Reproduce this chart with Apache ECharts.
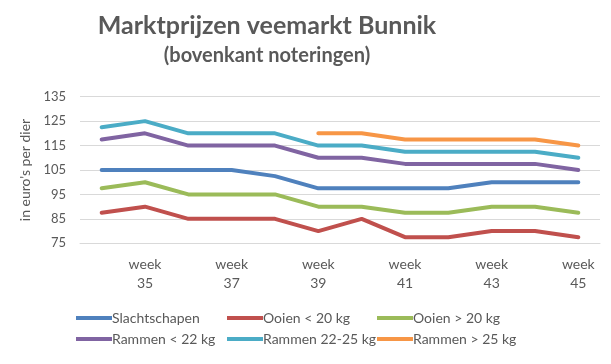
<!DOCTYPE html>
<html>
<head>
<meta charset="utf-8">
<script src="https://cdn.jsdelivr.net/npm/echarts@6/dist/echarts.min.js"></script>
<style>html,body{margin:0;padding:0;background:#fff}#c{width:611px;height:364px}</style>
</head>
<body>
<div id="c"></div>
<script>
var weeks = ['week 34','week 35','week 36','week 37','week 38','week 39','week 40','week 41','week 42','week 43','week 44','week 45'];
var slachtschapen = [105,105,105,105,102.5,97.5,97.5,97.5,97.5,100,100,100];
var ooienLt20 = [87.5,90,85,85,85,80,85,77.5,77.5,80,80,77.5];
var ooienGt20 = [97.5,100,95,95,95,90,90,87.5,87.5,90,90,87.5];
var rammenLt22 = [117.5,120,115,115,115,110,110,107.5,107.5,107.5,107.5,105];
var rammen2225 = [122.5,125,120,120,120,115,115,112.5,112.5,112.5,112.5,110];
var rammenGt25 = [null,null,null,null,null,120,120,117.5,117.5,117.5,117.5,115];
var yTicks = {min:75, max:135, interval:10};

var FONT = 'Lato';
var names = ['Slachtschapen','Ooien < 20 kg','Ooien > 20 kg','Rammen < 22 kg','Rammen 22-25 kg','Rammen > 25 kg'];
var colors = ['#4F81BD','#C0504D','#9BBB59','#8064A2','#4BACC6','#F79646'];
var datas = [slachtschapen, ooienLt20, ooienGt20, rammenLt22, rammen2225, rammenGt25];
var legendPos = [[76,311],[227,311],[377,311],[76,332],[227,332],[377,332]];

var chart = echarts.init(document.getElementById('c'));
chart.setOption({
  animation:false,
  textStyle:{fontFamily:FONT},
  title:[
    {text:'Marktprijzen veemarkt Bunnik', left:262, top:8, textAlign:'center',
     textStyle:{fontFamily:FONT, fontSize:25, fontWeight:'bold', color:'#595959'}},
    {text:'(bovenkant noteringen)', left:262, top:41, textAlign:'center',
     textStyle:{fontFamily:FONT, fontSize:20, fontWeight:'bold', color:'#595959'}}
  ],
  legend: names.map(function(n,i){
    return {data:[n], left:legendPos[i][0], top:legendPos[i][1], icon:'rect', itemWidth:36, itemHeight:4,
      padding:0, textStyle:{fontFamily:FONT, fontSize:14, color:'#595959', padding:[0,0,0,-5]}};
  }),
  grid:{left:80, right:11, top:96.7, bottom:120.7},
  xAxis:{type:'category', data:weeks, boundaryGap:true,
    axisLine:{lineStyle:{color:'#d9d9d9'}}, axisTick:{show:false},
    axisLabel:{interval:function(i){return i%2===1;}, formatter:function(v){return v.replace(' ','\n');},
      color:'#595959', fontSize:14, lineHeight:19, margin:12, fontFamily:FONT}},
  yAxis:{type:'value', min:yTicks.min, max:yTicks.max, interval:yTicks.interval,
    name:"in euro's per dier", nameLocation:'middle', nameGap:46, nameRotate:90,
    nameTextStyle:{color:'#595959', fontSize:14, fontFamily:FONT},
    axisLine:{show:false}, axisTick:{show:false},
    splitLine:{lineStyle:{color:'#d9d9d9'}},
    axisLabel:{color:'#595959', fontSize:13, margin:14, fontFamily:FONT}},
  series: names.map(function(n,i){
    return {name:n, type:'line', data:datas[i], symbol:'none', color:colors[i],
      lineStyle:{width:4, color:colors[i], cap:'round'}, connectNulls:false};
  })
});
</script>
</body>
</html>
